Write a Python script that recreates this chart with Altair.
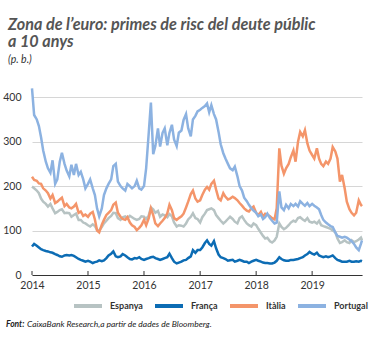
import altair as alt
import pandas as pd

COUNTRIES = ["Espanya", "França", "Itàlia", "Portugal"]
COLORS = ["#b7c3c3", "#0c6cb4", "#f4956a", "#8cb2e1"]
YEARS = [2014, 2015, 2016, 2017, 2018, 2019]
Y_TICKS = [0, 50, 100, 150, 200, 250, 300, 350, 400, 450]
TITLE = ["Zona de l’euro: primes de risc del deute públic", "a 10 anys"]
SUBTITLE = "(p. b.)"
FOOT_BOLD = "Font:"
FOOT_TEXT = "CaixaBank Research,a partir de dades de Bloomberg."

# semi-monthly observations (1st and 15th of each month), last point 22 Nov 2019
ESPANYA = (
    [199, 195, 190, 184, 172, 165, 160, 154, 160, 150, 139, 142, 146, 148, 139, 140, 139, 131, 135, 138, 124, 124, 118, 116]
    + [112, 109, 114, 110, 102, 100, 108, 116, 122, 128, 133, 140, 139, 128, 124, 130, 132, 128, 133, 130, 126, 124, 126, 132]
    + [131, 126, 134, 152, 148, 140, 144, 131, 136, 134, 130, 137, 132, 118, 109, 112, 111, 109, 116, 125, 131, 139, 128, 126]
    + [118, 130, 138, 146, 148, 150, 146, 135, 128, 122, 116, 120, 126, 131, 126, 120, 116, 128, 132, 124, 116, 112, 109, 116]
    + [112, 104, 95, 88, 82, 84, 76, 73, 78, 86, 116, 108, 103, 106, 112, 118, 122, 120, 128, 130, 125, 122, 128, 120]
    + [118, 120, 116, 122, 112, 110, 108, 106, 104, 100, 96, 82, 72, 74, 78, 74, 72, 78, 74, 76, 80, 84, 78]
)
FRANCA = (
    [64, 70, 66, 62, 58, 56, 54, 53, 51, 50, 47, 45, 42, 41, 44, 45, 44, 45, 43, 40, 36, 34, 32, 30]
    + [32, 30, 27, 29, 30, 33, 31, 33, 38, 44, 48, 53, 42, 40, 42, 47, 44, 40, 36, 35, 38, 37, 40, 36]
    + [34, 36, 38, 40, 41, 38, 36, 34, 36, 38, 40, 48, 38, 30, 26, 28, 30, 33, 34, 38, 42, 56, 50, 56]
    + [56, 62, 72, 78, 70, 66, 76, 60, 46, 40, 38, 36, 32, 33, 34, 30, 32, 34, 32, 30, 30, 27, 30, 32]
    + [34, 32, 30, 28, 27, 27, 26, 26, 28, 32, 40, 36, 33, 32, 32, 34, 34, 35, 36, 38, 40, 44, 47, 52]
    + [48, 46, 50, 44, 42, 40, 42, 40, 42, 44, 38, 34, 32, 30, 30, 30, 32, 30, 30, 31, 30, 32, 31]
)
ITALIA = (
    [221, 214, 212, 206, 205, 195, 190, 184, 172, 180, 162, 165, 170, 174, 155, 160, 152, 150, 154, 160, 140, 143, 133, 136]
    + [131, 138, 142, 125, 100, 96, 113, 124, 135, 140, 146, 158, 163, 140, 131, 126, 124, 130, 118, 112, 108, 101, 106, 112]
    + [124, 112, 128, 150, 135, 116, 110, 116, 122, 128, 139, 158, 146, 128, 124, 128, 132, 138, 152, 165, 182, 190, 172, 165]
    + [168, 180, 192, 198, 192, 205, 212, 192, 172, 168, 184, 176, 170, 172, 176, 173, 168, 162, 156, 150, 145, 143, 150, 154]
    + [140, 135, 142, 131, 138, 136, 132, 128, 125, 150, 285, 246, 228, 240, 250, 265, 280, 255, 300, 322, 312, 326, 296, 280]
    + [270, 262, 285, 262, 250, 245, 255, 250, 262, 288, 278, 262, 210, 225, 195, 165, 148, 140, 134, 140, 168, 158, 155]
)
PORTUGAL = (
    [420, 360, 350, 335, 310, 280, 255, 240, 230, 258, 205, 215, 255, 275, 250, 235, 222, 248, 225, 250, 225, 232, 215, 195]
    + [205, 215, 195, 180, 150, 132, 150, 180, 195, 205, 215, 245, 250, 210, 200, 195, 190, 205, 200, 195, 200, 212, 195, 192]
    + [200, 240, 320, 388, 272, 290, 330, 289, 320, 330, 292, 320, 338, 305, 290, 320, 325, 349, 362, 330, 312, 350, 358, 368]
    + [372, 376, 380, 386, 366, 382, 362, 350, 322, 294, 274, 262, 250, 240, 236, 244, 222, 200, 190, 174, 166, 158, 150, 145]
    + [140, 132, 136, 126, 130, 138, 128, 122, 116, 118, 188, 152, 146, 158, 150, 160, 155, 160, 154, 166, 160, 156, 162, 155]
    + [160, 156, 152, 148, 135, 124, 118, 114, 110, 108, 96, 88, 86, 84, 86, 84, 80, 76, 70, 62, 56, 70, 78]
)

dates = []
for y in YEARS:
    for m in range(1, 13):
        if y == 2019 and m == 12:
            break
        for d in (1, 15):
            dates.append(pd.Timestamp(y, m, d))
dates.append(pd.Timestamp(2019, 11, 22))

rows = []
for name, vals in zip(COUNTRIES, [ESPANYA, FRANCA, ITALIA, PORTUGAL]):
    for dt, v in zip(dates, vals):
        rows.append({"date": dt, "country": name, "value": v})
df = pd.DataFrame(rows)

FONT = "Lato"

lines = alt.Chart(df).mark_line(strokeWidth=2.5).encode(
    x=alt.X(
        "date:T",
        scale=alt.Scale(domain=[alt.DateTime(year=2014, month=1, date=1),
                                alt.DateTime(year=2019, month=11, date=22)]),
        axis=alt.Axis(
            values=[alt.DateTime(year=y, month=1, date=1) for y in YEARS],
            format="%Y", title=None, grid=False, ticks=False,
            domainColor="#333333", domainWidth=1,
            labelFont=FONT, labelFontSize=10.5, labelColor="#333333",
            labelPadding=5, labelFlush=False,
        ),
    ),
    y=alt.Y(
        "value:Q",
        scale=alt.Scale(domain=[0, 450]),
        axis=alt.Axis(
            values=Y_TICKS, title=None, grid=True, gridColor="#d6d6d6", gridWidth=1,
            domain=False, ticks=False, labelPadding=11,
            labelFont=FONT, labelFontSize=10.5, labelColor="#333333",
        ),
    ),
    color=alt.Color(
        "country:N",
        scale=alt.Scale(domain=COUNTRIES, range=COLORS),
        legend=alt.Legend(
            title=None, orient="none", legendX=40, legendY=215, direction="horizontal",
            symbolType="stroke", symbolSize=784, symbolStrokeWidth=4,
            labelFont=FONT, labelFontSize=9, labelFontWeight="bold", labelColor="#333333",
            labelOffset=6, columnPadding=4, padding=0,
        ),
    ),
)

tick_df = pd.DataFrame({"date": [pd.Timestamp(y, 1, 1) for y in YEARS], "y0": 0, "y1": 9})
ticks = alt.Chart(tick_df).mark_rule(color="#333333", strokeWidth=1).encode(
    x="date:T", y="y0:Q", y2="y1:Q"
)

foot1 = alt.Chart(pd.DataFrame({"t": [FOOT_BOLD]})).mark_text(
    font=FONT, fontSize=8.5, fontWeight="bold", fontStyle="italic", color="#222222",
    align="left", baseline="alphabetic",
).encode(text="t:N", x=alt.value(-26), y=alt.value(252))

foot2 = alt.Chart(pd.DataFrame({"t": [FOOT_TEXT]})).mark_text(
    font=FONT, fontSize=8.5, fontStyle="italic", color="#222222",
    align="left", baseline="alphabetic",
).encode(text="t:N", x=alt.value(-5), y=alt.value(252))

chart = alt.layer(lines, ticks, foot1, foot2).properties(
    width=330,
    height=200,
    autosize=alt.AutoSizeParams(type="none"),
    padding={"left": 32, "top": 75, "right": 12, "bottom": 63},
    title=alt.TitleParams(
        text=TITLE, subtitle=SUBTITLE, anchor="start", frame="group", dx=-24,
        font=FONT, fontSize=16.2, fontWeight="bold", fontStyle="italic", color="#555555",
        lineHeight=17.5, subtitleFont=FONT, subtitleFontSize=10.5, subtitleFontStyle="italic",
        subtitleColor="#333333", subtitlePadding=4, offset=10,
    ),
).configure_view(stroke=None)

chart.save("out.html", embed_options={"renderer": "svg", "actions": False})
